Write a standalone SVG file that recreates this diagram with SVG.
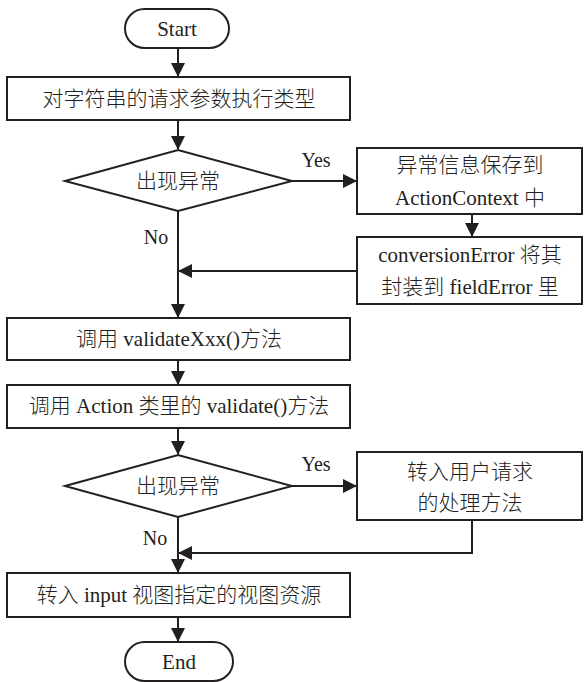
<svg xmlns="http://www.w3.org/2000/svg" width="584" height="682" viewBox="0 0 584 682">
  <style>
    .shape { fill: #ffffff; stroke: #231f20; stroke-width: 2; }
    .wire { fill: none; stroke: #231f20; stroke-width: 2; }
    .txt { font-family: "Liberation Serif", "Noto Sans CJK SC", serif; font-size: 21px; font-weight: 300; fill: #231f20; text-anchor: middle; dominant-baseline: central; }
    .lbl { font-family: "Liberation Serif", serif; font-size: 20px; fill: #231f20; text-anchor: middle; dominant-baseline: central; }
  </style>
  <defs>
    <marker id="arrow" viewBox="0 0 14 14" refX="13" refY="7" markerWidth="14" markerHeight="14" markerUnits="userSpaceOnUse" orient="auto">
      <path d="M0,0 L14,7 L0,14 Z" fill="#231f20"/>
    </marker>
  </defs>

  <!-- connectors -->
  <g id="connectors">
    <path class="wire" d="M178,48 V76" marker-end="url(#arrow)"/>
    <path class="wire" d="M178,120 V149" marker-end="url(#arrow)"/>
    <path class="wire" d="M292,181 H356" marker-end="url(#arrow)"/>
    <path class="wire" d="M472,214 V236" marker-end="url(#arrow)"/>
    <path class="wire" d="M357,271 H179" marker-end="url(#arrow)"/>
    <path class="wire" d="M178,211 V317" marker-end="url(#arrow)"/>
    <path class="wire" d="M178,360 V384" marker-end="url(#arrow)"/>
    <path class="wire" d="M178,428 V454" marker-end="url(#arrow)"/>
    <path class="wire" d="M292,486 H356" marker-end="url(#arrow)"/>
    <path class="wire" d="M472,520 V553 H179" marker-end="url(#arrow)"/>
    <path class="wire" d="M178,517 V572" marker-end="url(#arrow)"/>
    <path class="wire" d="M178,617 V641" marker-end="url(#arrow)"/>
    <text class="lbl" x="316" y="160">Yes</text>
    <text class="lbl" x="156" y="237">No</text>
    <text class="lbl" x="316" y="464">Yes</text>
    <text class="lbl" x="155" y="538">No</text>
  </g>

  <g id="start">
    <rect class="shape" x="125" y="9" width="104" height="39" rx="19.5" ry="19.5"/>
    <text class="txt" x="177" y="29">Start</text>
  </g>

  <g id="convert">
    <rect class="shape" x="7" y="77" width="343" height="43"/>
    <text class="txt" x="179" y="99">对字符串的请求参数执行类型</text>
  </g>

  <g id="check1">
    <polygon class="shape" points="65,181 178,150 292,181 178,211"/>
    <text class="txt" x="178" y="181">出现异常</text>
  </g>

  <g id="save-context">
    <rect class="shape" x="357" y="148" width="225" height="66"/>
    <text class="txt" x="470" y="165">异常信息保存到</text>
    <text class="txt" x="470" y="198">ActionContext 中</text>
  </g>

  <g id="wrap-error">
    <rect class="shape" x="357" y="237" width="225" height="67"/>
    <text class="txt" x="470" y="255">conversionError 将其</text>
    <text class="txt" x="470" y="287">封装到 fieldError 里</text>
  </g>

  <g id="validate-xxx">
    <rect class="shape" x="7" y="318" width="343" height="42"/>
    <text class="txt" x="179" y="339">调用 validateXxx()方法</text>
  </g>

  <g id="validate">
    <rect class="shape" x="7" y="385" width="343" height="43"/>
    <text class="txt" x="179" y="406">调用 Action 类里的 validate()方法</text>
  </g>

  <g id="check2">
    <polygon class="shape" points="65,486 178,455 292,486 178,517"/>
    <text class="txt" x="178" y="486">出现异常</text>
  </g>

  <g id="user-handler">
    <rect class="shape" x="357" y="452" width="225" height="68"/>
    <text class="txt" x="470" y="472">转入用户请求</text>
    <text class="txt" x="470" y="503">的处理方法</text>
  </g>

  <g id="input-view">
    <rect class="shape" x="7" y="573" width="343" height="44"/>
    <text class="txt" x="179" y="595">转入 input 视图指定的视图资源</text>
  </g>

  <g id="end">
    <rect class="shape" x="125" y="642" width="108" height="39" rx="19.5" ry="19.5"/>
    <text class="txt" x="179" y="662">End</text>
  </g>
</svg>
